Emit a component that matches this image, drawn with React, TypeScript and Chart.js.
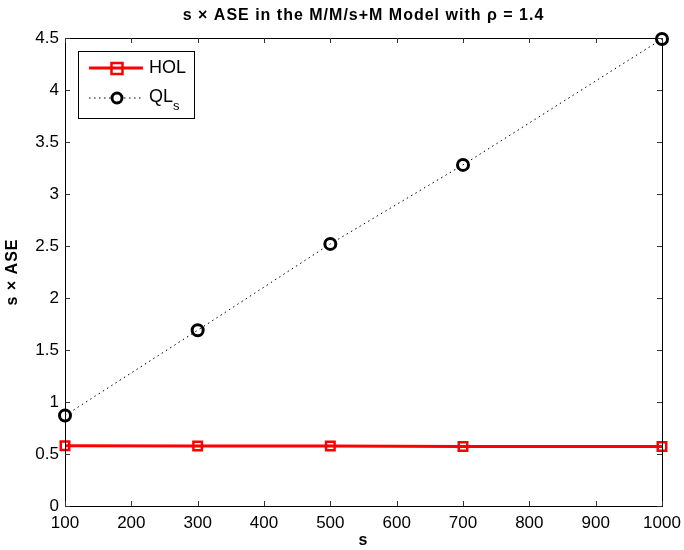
import React, { useEffect, useRef } from 'react';
import { Chart, registerables } from 'chart.js';
Chart.register(...registerables);

const sValues = [100, 300, 500, 700, 1000];
const holValues = [0.58, 0.578, 0.577, 0.572, 0.573];
const qlValues = [0.87, 1.69, 2.52, 3.28, 4.49];
const xTicks = [100, 200, 300, 400, 500, 600, 700, 800, 900, 1000];
const yTicks = [0, 0.5, 1, 1.5, 2, 2.5, 3, 3.5, 4, 4.5];
const titleText = 's \u00D7 ASE in the M/M/s+M Model with \u03C1 = 1.4';
const xTitle = 's';
const yTitle = 's \u00D7 ASE';

const FONT = '"Liberation Sans", Arial, Helvetica, sans-serif';

const framePlugin = {
  id: 'matlabFrame',
  afterDraw(chart: any) {
    const { ctx, chartArea: a, scales } = chart;
    const xs = scales.x, ys = scales.y;
    ctx.save();
    // box
    ctx.strokeStyle = '#000';
    ctx.lineWidth = 1;
    ctx.strokeRect(Math.round(a.left) + 0.5, Math.round(a.top) + 0.5, Math.round(a.right - a.left), Math.round(a.bottom - a.top));
    // inward ticks
    ctx.strokeStyle = '#333';
    const tl = 5;
    ctx.beginPath();
    xTicks.forEach((v) => {
      const px = Math.round(xs.getPixelForValue(v)) + 0.5;
      ctx.moveTo(px, a.bottom); ctx.lineTo(px, a.bottom - tl);
      ctx.moveTo(px, a.top); ctx.lineTo(px, a.top + tl);
    });
    yTicks.forEach((v) => {
      const py = Math.round(ys.getPixelForValue(v)) + 0.5;
      ctx.moveTo(a.left, py); ctx.lineTo(a.left + tl, py);
      ctx.moveTo(a.right, py); ctx.lineTo(a.right - tl, py);
    });
    ctx.stroke();
    // title
    ctx.fillStyle = '#000';
    ctx.font = `bold 16px ${FONT}`;
    (ctx as any).letterSpacing = '1px';
    ctx.textAlign = 'center';
    ctx.textBaseline = 'middle';
    ctx.fillText(titleText, (a.left + a.right) / 2, 16);
    // axis titles
    ctx.fillText(xTitle, (a.left + a.right) / 2, 541);
    ctx.save();
    ctx.translate(13, (a.top + a.bottom) / 2);
    ctx.rotate(-Math.PI / 2);
    ctx.fillText(yTitle, 0, 0);
    ctx.restore();
    (ctx as any).letterSpacing = '0px';
    // legend
    const lx = 78, ly = 51, lw = 116, lh = 67;
    ctx.fillStyle = '#fff';
    ctx.fillRect(lx, ly, lw, lh);
    ctx.strokeStyle = '#000';
    ctx.lineWidth = 1;
    ctx.strokeRect(lx + 0.5, ly + 0.5, lw, lh);
    // HOL row
    const r1 = 68, r2 = 98;
    ctx.strokeStyle = '#ff0000';
    ctx.lineWidth = 3;
    ctx.beginPath();
    ctx.moveTo(89, r1); ctx.lineTo(143, r1);
    ctx.stroke();
    ctx.lineWidth = 2.5;
    ctx.strokeRect(111.5, r1 - 5, 11, 11);
    // QL row
    ctx.strokeStyle = '#000';
    ctx.lineWidth = 1;
    ctx.setLineDash([1.5, 3.5]);
    ctx.beginPath();
    ctx.moveTo(89, r2); ctx.lineTo(143, r2);
    ctx.stroke();
    ctx.setLineDash([]);
    ctx.fillStyle = '#fff';
    ctx.beginPath(); ctx.arc(117, r2, 6, 0, Math.PI * 2); ctx.fill();
    ctx.lineWidth = 3;
    ctx.beginPath(); ctx.arc(117, r2, 5, 0, Math.PI * 2); ctx.stroke();
    // labels
    ctx.fillStyle = '#000';
    ctx.textAlign = 'left';
    ctx.textBaseline = 'middle';
    ctx.font = `18px ${FONT}`;
    ctx.fillText('HOL', 149, r1);
    ctx.fillText('QL', 149, r2 - 1);
    const w = ctx.measureText('QL').width;
    ctx.font = `13px ${FONT}`;
    ctx.fillText('s', 149 + w, r2 + 8);
    ctx.restore();
  },
};

export default function App() {
  const ref = useRef<HTMLCanvasElement>(null);
  useEffect(() => {
    document.body.style.margin = '0';
    const canvas = ref.current!;
    const chart = new Chart(canvas, {
      type: 'line',
      data: {
        datasets: [
          {
            label: 'HOL',
            data: sValues.map((s, i) => ({ x: s, y: holValues[i] })),
            borderColor: '#ff0000',
            backgroundColor: 'rgba(0,0,0,0)',
            borderWidth: 3,
            pointStyle: 'rect',
            pointRadius: 6,
            pointBorderWidth: 2.5,
            pointBorderColor: '#ff0000',
            pointBackgroundColor: 'rgba(0,0,0,0)',
            tension: 0,
            clip: false as any,
          },
          {
            label: 'QL_s',
            data: sValues.map((s, i) => ({ x: s, y: qlValues[i] })),
            borderColor: '#000',
            backgroundColor: 'rgba(0,0,0,0)',
            borderWidth: 1,
            borderDash: [1.5, 3.5],
            pointStyle: 'circle',
            pointRadius: 5.5,
            pointBorderWidth: 3,
            pointBorderColor: '#000',
            pointBackgroundColor: 'rgba(0,0,0,0)',
            tension: 0,
            clip: false as any,
          },
        ],
      },
      options: {
        animation: false,
        responsive: false,
        events: [],
        layout: { padding: { top: 38, right: 22, left: 0, bottom: 0 } },
        plugins: { legend: { display: false }, title: { display: false }, tooltip: { enabled: false } },
        scales: {
          x: {
            type: 'linear',
            min: 100,
            max: 1000,
            afterBuildTicks: (s: any) => { s.ticks = xTicks.map((v) => ({ value: v })); },
            afterFit: (s: any) => { s.height = 44; s.paddingLeft = 0; s.paddingRight = 0; },
            grid: { display: false, drawTicks: false },
            border: { display: false },
            ticks: { color: '#000', font: { family: FONT, size: 17 }, padding: 7, maxRotation: 0, autoSkip: false, callback: (v: any) => String(v) },
          },
          y: {
            type: 'linear',
            min: 0,
            max: 4.5,
            afterBuildTicks: (s: any) => { s.ticks = yTicks.map((v) => ({ value: v })); },
            afterFit: (s: any) => { s.width = 65; s.paddingTop = 0; s.paddingBottom = 0; },
            grid: { display: false, drawTicks: false },
            border: { display: false },
            ticks: { color: '#000', font: { family: FONT, size: 17 }, padding: 6, autoSkip: false, callback: (v: any) => String(v) },
          },
        },
      },
      plugins: [framePlugin],
    });
    return () => chart.destroy();
  }, []);
  return <canvas ref={ref} width={684} height={550} style={{ display: 'block', width: 684, height: 550 }} />;
}
